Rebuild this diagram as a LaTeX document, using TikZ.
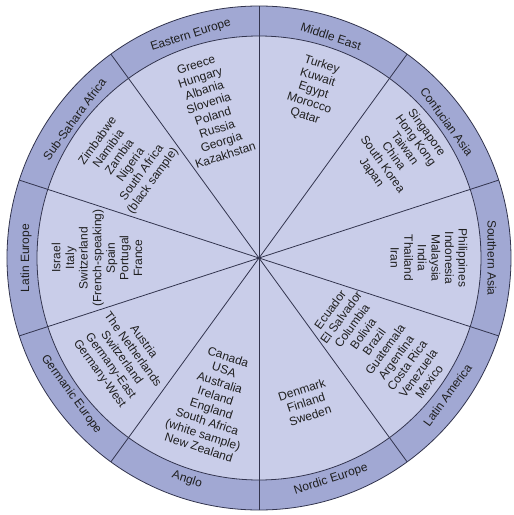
\documentclass[tikz,border=0pt]{standalone}
\usepackage{fontspec}
\setmainfont{Liberation Sans}
\definecolor{ringc}{RGB}{161,168,211}
\definecolor{innerc}{RGB}{201,205,233}
\definecolor{linec}{RGB}{50,52,78}
\begin{document}
\begin{tikzpicture}[x=1pt,y=1pt,
  txt/.style={font=\fontsize{12}{13.6}\selectfont, align=center, text=black!88, inner sep=0pt},
  lbl/.style={font=\fontsize{12}{13.6}\selectfont, text=black!88, inner sep=0pt},
  divider/.style={draw=linec, line width=0.8pt}]
\useasboundingbox (-259,-257) rectangle (255,258);
\fill[white] (-259,-257) rectangle (255,258);
\filldraw[fill=ringc, draw=linec, line width=0.8pt] (0,0) circle (252);
\filldraw[fill=innerc, draw=linec, line width=0.8pt] (0,0) circle (222);
\coordinate (O) at (0,0);
\foreach \a/\n in {90/a,54/b,18/c,-18/d,-54/e,-90/f,-126/g,-162/h,162/i,126/j}{
  \coordinate (e\n) at (\a:252);
  \draw[divider] (O) -- (e\n);
}
% ring labels
\node[lbl, rotate=18]  (rEE) at (107:233) {Eastern Europe};
\node[lbl, rotate=-18] (rME) at (72:233) {Middle East};
\node[lbl, rotate=-54] (rCA) at (36:232) {Confucian Asia};
\node[lbl, rotate=-90] (rSA) at (0:233) {Southern Asia};
\node[lbl, rotate=54]  (rLA) at (-36:233) {Latin America};
\node[lbl, rotate=18]  (rNE) at (-72:233) {Nordic Europe};
\node[lbl, rotate=-18] (rAN) at (-108:233) {Anglo};
\node[lbl, rotate=-54] (rGE) at (-144:232) {Germanic Europe};
\node[lbl, rotate=90]  (rLE) at (180:233) {Latin Europe};
\node[lbl, rotate=54]  (rSS) at (143:231) {Sub-Sahara Africa};
% country blocks
\node[txt, rotate=18] (cEE) at (108:156) {Greece\\Hungary\\Albania\\Slovenia\\Poland\\Russia\\Georgia\\Kazakhstan};
\node[txt, rotate=-18] (cME) at (72:176) {Turkey\\Kuwait\\Egypt\\Morocco\\Qatar};
\node[txt, rotate=-54] (cCA) at (37:175) {Singapore\\Hong Kong\\Taiwan\\China\\South Korea\\Japan};
\node[txt, rotate=-90] (cSA) at (0:170) {Philippines\\Indonesia\\Malaysia\\India\\Thailand\\Iran};
\node[txt, rotate=54] (cLA) at (-36:149) {Ecuador\\El Salvador\\Columbia\\Bolivia\\Brazil\\Guatemala\\Argentina\\Costa Rica\\Venezuela\\Mexico};
\node[txt, rotate=18] (cNE) at (-72:152) {Denmark\\Finland\\Sweden};
\node[txt, rotate=-18] (cAN) at (-107.5:151) {Canada\\USA\\Australia\\Ireland\\England\\South Africa\\(white sample)\\New Zealand};
\node[txt, rotate=-54] (cGE) at (-144:170) {Austria\\The Netherlands\\Switzerland\\Germany-East\\Germany-West};
\node[txt, rotate=90] (cLE) at (180:162) {Israel\\Italy\\Switzerland\\(French-speaking)\\Spain\\Portugal\\France};
\node[txt, rotate=54] (cSS) at (144:165) {Zimbabwe\\Namibia\\Zambia\\Nigeria\\South Africa\\(black sample)};
\end{tikzpicture}
\end{document}
